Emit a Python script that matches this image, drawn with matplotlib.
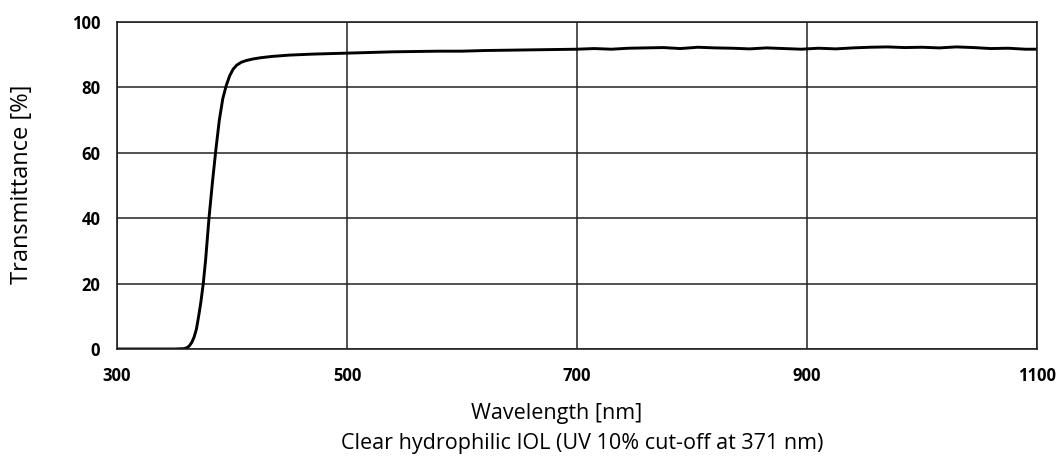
import matplotlib
matplotlib.use("Agg")
import matplotlib.pyplot as plt

# wavelength [nm] and transmittance [%]
wavelength = [300, 330, 350, 358, 361, 363, 365, 367, 369, 371, 373, 375, 377,
              380, 383, 386, 389, 392, 395, 398, 401, 404, 408, 412, 418, 425,
              435, 450, 470, 500, 520, 540, 560, 580, 600, 620, 640, 660, 680,
              700, 715, 730, 745, 760, 775, 790, 805, 820, 835, 850, 865, 880,
              895, 910, 925, 940, 955, 970, 985, 1000, 1015, 1030, 1045, 1060,
              1075, 1090, 1100]
transmittance = [0.0, 0.0, 0.0, 0.1, 0.4, 1.0, 2.0, 3.6, 6.0, 10.0, 14.5, 20.0,
                 27.0, 40.0, 51.0, 61.0, 70.0, 76.5, 80.5, 83.5, 85.5, 86.7,
                 87.6, 88.1, 88.6, 89.0, 89.4, 89.8, 90.1, 90.4, 90.6, 90.8,
                 90.9, 91.0, 91.0, 91.2, 91.3, 91.4, 91.5, 91.6, 91.8, 91.6,
                 91.9, 92.0, 92.1, 91.8, 92.2, 92.0, 91.9, 91.7, 92.0, 91.8,
                 91.6, 91.9, 91.7, 92.0, 92.2, 92.3, 92.1, 92.2, 92.0, 92.3,
                 92.1, 91.8, 91.9, 91.6, 91.6]

x_ticks = [300, 500, 700, 900, 1100]
y_ticks = [0, 20, 40, 60, 80, 100]

fig = plt.figure(figsize=(10.57, 4.62), dpi=100)
ax = fig.add_axes([0.1107, 0.2446, 0.8703, 0.7084])

ax.plot(wavelength, transmittance, color="black", lw=2.1, solid_capstyle="round")

ax.set_xlim(300, 1100)
ax.set_ylim(0, 100)
ax.set_xticks(x_ticks)
ax.set_yticks(y_ticks)
ax.grid(True, color="#222222", lw=1.1)
ax.set_axisbelow(True)
for s in ax.spines.values():
    s.set_color("#222222")
    s.set_linewidth(1.2)

ax.tick_params(axis="x", length=0, pad=13)
ax.tick_params(axis="y", length=0, pad=12)
for lbl in ax.get_xticklabels() + ax.get_yticklabels():
    lbl.set_fontfamily("Open Sans")
    lbl.set_fontweight("bold")
    lbl.set_fontsize(12)

fig.text(0.021, 0.60, "Transmittance [%]", rotation=90, ha="center", va="center",
         fontsize=17, family="Open Sans")
fig.text(0.527, 0.106, "Wavelength [nm]", ha="center", va="center",
         fontsize=15.5, family="Open Sans")
fig.text(0.551, 0.040, "Clear hydrophilic IOL (UV 10% cut-off at 371 nm)",
         ha="center", va="center", fontsize=15.5, family="Open Sans")

fig.savefig("out.png", dpi=100)
